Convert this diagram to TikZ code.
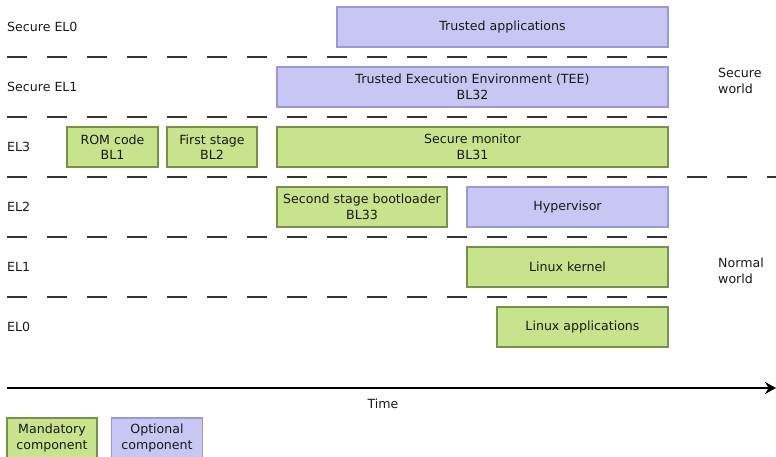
\documentclass[tikz,border=0pt]{standalone}
\usepackage{fontspec}
\setmainfont{DejaVu Sans}
\usepackage{tikz}
\usetikzlibrary{arrows.meta}
\definecolor{mandfill}{RGB}{199,227,139}
\definecolor{manddraw}{RGB}{118,146,72}
\definecolor{optfill}{RGB}{200,198,242}
\definecolor{optdraw}{RGB}{156,152,216}
\definecolor{sepline}{RGB}{51,51,51}

\begin{document}
\begin{tikzpicture}[x=1pt,y=-1pt,every node/.style={font=\fontsize{12.6}{15.5}\selectfont,text=black!90},comp/.style n args={3}{draw=#1draw,line width=1.6pt,fill=#1fill,minimum width=#2pt,minimum height=#3pt,inner sep=0pt,align=center,rectangle},lvl/.style={anchor=west,inner sep=0pt},sep/.style={sepline,line width=2.2pt,dash pattern=on 20pt off 20pt}]
\useasboundingbox (0,0) rectangle (776,457);
\foreach \y/\l in %
{27/Secure EL0,87/Secure EL1,147/EL3,207/EL2,267/EL1,327/EL0} {
   \node[lvl] (lvl\y) at (7,\y) {\l};
}
\foreach \y/\e in %
{57/668,117/668,177/776,237/668,297/668} {
   \draw[sep] (7,\y) -- (\e,\y);
}
\node[comp={opt}{331}{40}] (apps) at (502.5,27) {Trusted applications};
\node[comp={opt}{391}{40}] (tee) at (472.5,87) {Trusted Execution Environment (TEE)\\BL32};
\node[comp={mand}{91}{40}] (rom) at (112.5,147) {ROM code\\BL1};
\node[comp={mand}{90}{40}] (bltwo) at (212,147) {First stage\\BL2};
\node[comp={mand}{391}{40}] (monitor) at (472.5,147) {Secure monitor\\BL31};
\node[comp={mand}{170}{40}] (blthree) at (362,207) {Second stage bootloader\\BL33};
\node[comp={opt}{201}{40}] (hyp) at (567.5,207) {Hypervisor};
\node[comp={mand}{201}{40}] (kernel) at (567.5,267) {Linux kernel};
\node[comp={mand}{171}{40}] (linapps) at (582.5,327) {Linux applications};
\node[lvl,align=left] (secw) at (718,81) {Secure\\world};
\node[lvl,align=left] (normw) at (718,271) {Normal\\world};
\coordinate (t0) at (7,388);
\coordinate (t1) at (776,388);
\draw[line width=2pt,-{Stealth[length=11pt,width=12pt]}] (t0) -- (t1);
\node (time) at (383,404) {Time};
\node[comp={mand}{90}{40}] (mand) at (52,438) {Mandatory\\component};
\node[comp={opt}{91}{40}] (opt) at (157,438) {Optional\\component};
\end{tikzpicture}
\end{document}
